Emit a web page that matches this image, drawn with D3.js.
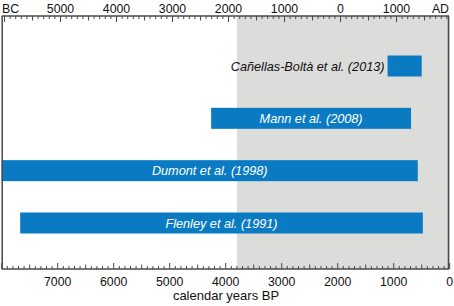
<!DOCTYPE html>
<html><head><meta charset="utf-8">
<script src="https://cdn.jsdelivr.net/npm/d3@7"></script>
<style>body{margin:0;background:#fff}svg{display:block}text{font-family:"Liberation Sans",Arial,sans-serif}</style>
</head><body>
<svg id="c" width="454" height="306"></svg>
<script>
const studies = ["Cañellas-Boltà et al. (2013)", "Mann et al. (2008)", "Dumont et al. (1998)", "Flenley et al. (1991)"];
const startBP = [1110, 4260, 8000, 7670];
const endBP = [500, 690, 570, 480];
const bpTicks = [7000, 6000, 5000, 4000, 3000, 2000, 1000, 0];
const calTicks = [-5000, -4000, -3000, -2000, -1000, 0, 1000];
const shadeFromBP = 3800;

(function () {
const svg = d3.select("#c");
const x = d3.scaleLinear().domain([8000, 0]).range([1.7, 449.7]);
const xCal = d3.scaleLinear().domain([1950 - 8000, 1950]).range([1.7, 449.7]);
const y = d3.scalePoint().domain(studies).range([66, 223]);
const yTop = 16, yBot = 269, barH = 21;
const frame = "#4a4a4a";

svg.append("rect").attr("x", x(shadeFromBP)).attr("y", yTop)
  .attr("width", x(0) - x(shadeFromBP)).attr("height", yBot - yTop).attr("fill", "#dcdcdb");

studies.forEach((s, i) => {
  const x0 = x(startBP[i]), x1 = x(endBP[i]);
  svg.append("rect").attr("x", x0).attr("y", y(s) - barH / 2)
    .attr("width", x1 - x0).attr("height", barH).attr("fill", "#0a7bc2");
  const inside = i > 0;
  svg.append("text")
    .attr("x", inside ? (x0 + x1) / 2 : x0 - 3)
    .attr("y", y(s) + 4.5)
    .attr("text-anchor", inside ? "middle" : "end")
    .attr("font-style", "italic").attr("font-size", "12.7px")
    .attr("fill", inside ? "#fff" : "#111").text(s);
});

// top axis
const minorCal = d3.range(-6000, 1951, 100);
const gT = svg.append("g");
gT.selectAll("line").data(minorCal).join("line")
  .attr("x1", d => xCal(d)).attr("x2", d => xCal(d))
  .attr("y1", yTop).attr("y2", d => d % 1000 === 0 ? yTop + 6 : (d % 500 === 0 ? yTop + 4.5 : yTop + 3))
  .attr("stroke", frame).attr("stroke-width", 1);
gT.selectAll("text").data(calTicks).join("text")
  .attr("x", d => xCal(d)).attr("y", 13).attr("text-anchor", "middle")
  .attr("font-size", "12.3px").attr("fill", "#111").text(d => Math.abs(d));
svg.append("text").attr("x", 2).attr("y", 13).attr("font-size", "12.3px").attr("fill", "#111").text("BC");
svg.append("text").attr("x", 449).attr("y", 13).attr("text-anchor", "end").attr("font-size", "12.3px").attr("fill", "#111").text("AD");

// bottom axis
const minorBP = d3.range(0, 8001, 100);
const gB = svg.append("g");
gB.selectAll("line").data(minorBP).join("line")
  .attr("x1", d => x(d)).attr("x2", d => x(d))
  .attr("y1", yBot).attr("y2", d => d % 1000 === 0 ? yBot - 6 : (d % 500 === 0 ? yBot - 4.5 : yBot - 3))
  .attr("stroke", frame).attr("stroke-width", 1);
gB.selectAll("text").data(bpTicks).join("text")
  .attr("x", d => x(d)).attr("y", 286).attr("text-anchor", "middle")
  .attr("font-size", "12.3px").attr("fill", "#111").text(d => d);
svg.append("text").attr("x", 226).attr("y", 300).attr("text-anchor", "middle")
  .attr("font-size", "13px").attr("fill", "#111").text("calendar years BP");

// frame
svg.append("line").attr("x1", 1.7).attr("x2", 449).attr("y1", yTop).attr("y2", yTop).attr("stroke", frame).attr("stroke-width", 1.5);
svg.append("line").attr("x1", 1.7).attr("x2", 449).attr("y1", yBot).attr("y2", yBot).attr("stroke", frame).attr("stroke-width", 1.5);
svg.append("line").attr("x1", 2.2).attr("x2", 2.2).attr("y1", yTop).attr("y2", yBot).attr("stroke", frame).attr("stroke-width", 1.5);
svg.append("line").attr("x1", 448.5).attr("x2", 448.5).attr("y1", yTop).attr("y2", yBot).attr("stroke", frame).attr("stroke-width", 1.5);
})();
</script>
</body></html>
